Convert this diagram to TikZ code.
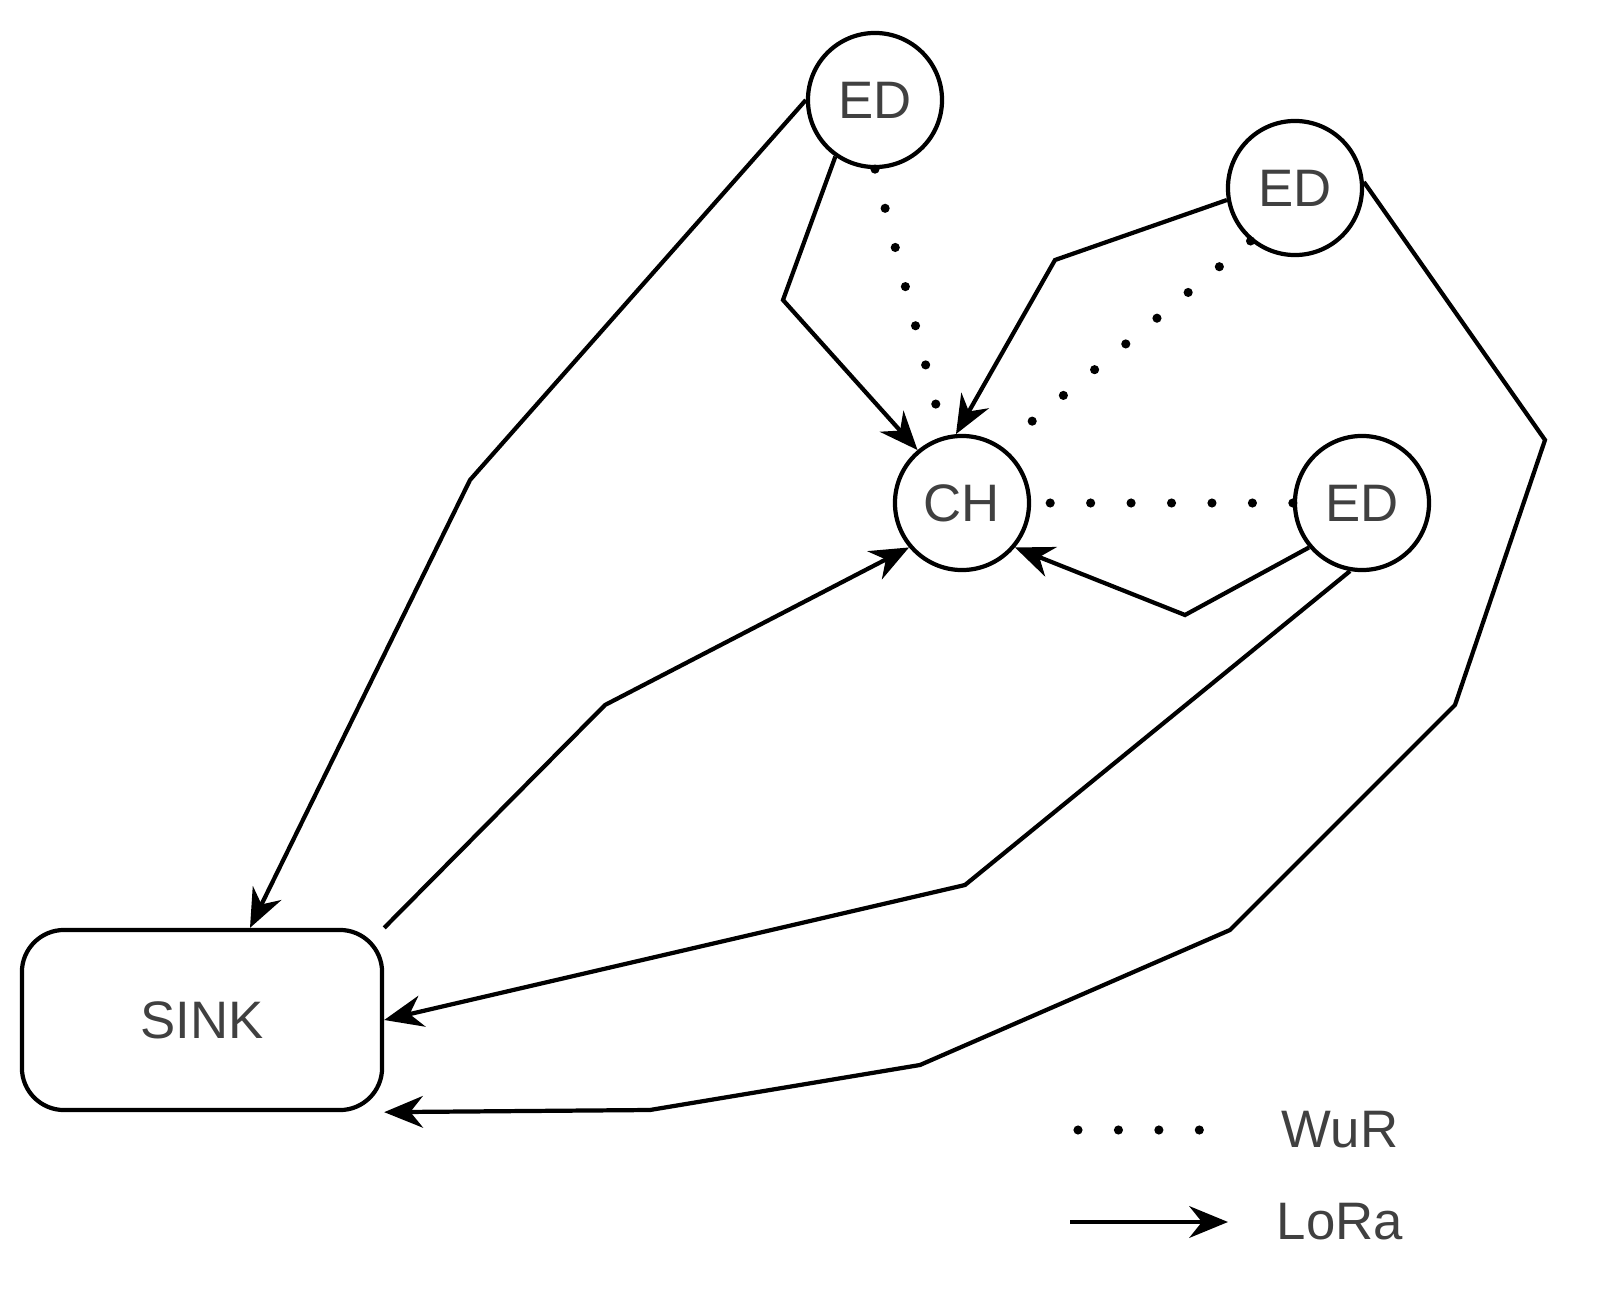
\documentclass[tikz,border=0pt]{standalone}
\usepackage{fontspec}
\setmainfont{Liberation Sans}
\usetikzlibrary{arrows.meta,positioning}

\begin{document}
\begin{tikzpicture}[x=0.01cm,y=-0.01cm,
	dev/.style={circle, draw, line width=1.2pt, minimum size=1.34cm, inner sep=0pt, font=\fontsize{15}{17}\selectfont, text=black!75},
	lora/.style={line width=1.2pt, -{Stealth[length=11pt,width=9pt]}},
	wur/.style={line width=2.6pt, dash pattern=on 0pt off 11.5pt, line cap=round}]
	\useasboundingbox (0,0) rectangle (1599,1306);

	\node[dev] (ed1) at (875,100) {ED};
	\node[dev] (ed2) at (1295,188) {ED};
	\node[dev] (ch) at (962,503) {CH};
	\node[dev] (ed3) at (1362,503) {ED};
	\node[draw, line width=1.2pt, rounded corners=12pt, minimum width=3.6cm, minimum height=1.8cm,
		font=\fontsize{15}{17}\selectfont, text=black!75] (sink) at (202,1020) {SINK};

	% LoRa links
	\draw[lora] (ed1.west) -- (470,480) -- (sink.north -| 250,0);
	\draw[lora] (ed1.-125) -- (783,300) -- (ch.130);
	\draw[lora] (ed2.-170) -- (1055,260) -- (ch.95);
	\draw[lora] (ed3.-140) -- (1185,615) -- (ch.-40);
	\draw[lora] (sink.north east) -- (605,705) -- (ch.-140);
	\draw[lora] (ed3.-100) -- (965,885) -- (sink.east);
	\draw[lora] (ed2.5) -- (1545,440) -- (1455,705) -- (1230,930) -- (920,1065) -- (650,1110) -- (sink.south east);

	% WuR links
	\draw[wur] (ed1.-90) -- (ch.105);
	\draw[wur] (ed2.-130) -- (ch.55);
	\draw[wur] (ed3.west) -- (ch.east);

	% legend
	\coordinate (w1) at (1078,1130);
	\coordinate (w2) at (1228,1130);
	\coordinate (l1) at (1070,1222);
	\coordinate (l2) at (1228,1222);
	\draw[wur] (w1) -- (w2);
	\draw[lora] (l1) -- (l2);
	\node[font=\fontsize{15}{17}\selectfont, text=black!75] (wurtext) at (1340,1130) {WuR};
	\node[font=\fontsize{15}{17}\selectfont, text=black!75] (loratext) at (1340,1222) {LoRa};
\end{tikzpicture}
\end{document}
